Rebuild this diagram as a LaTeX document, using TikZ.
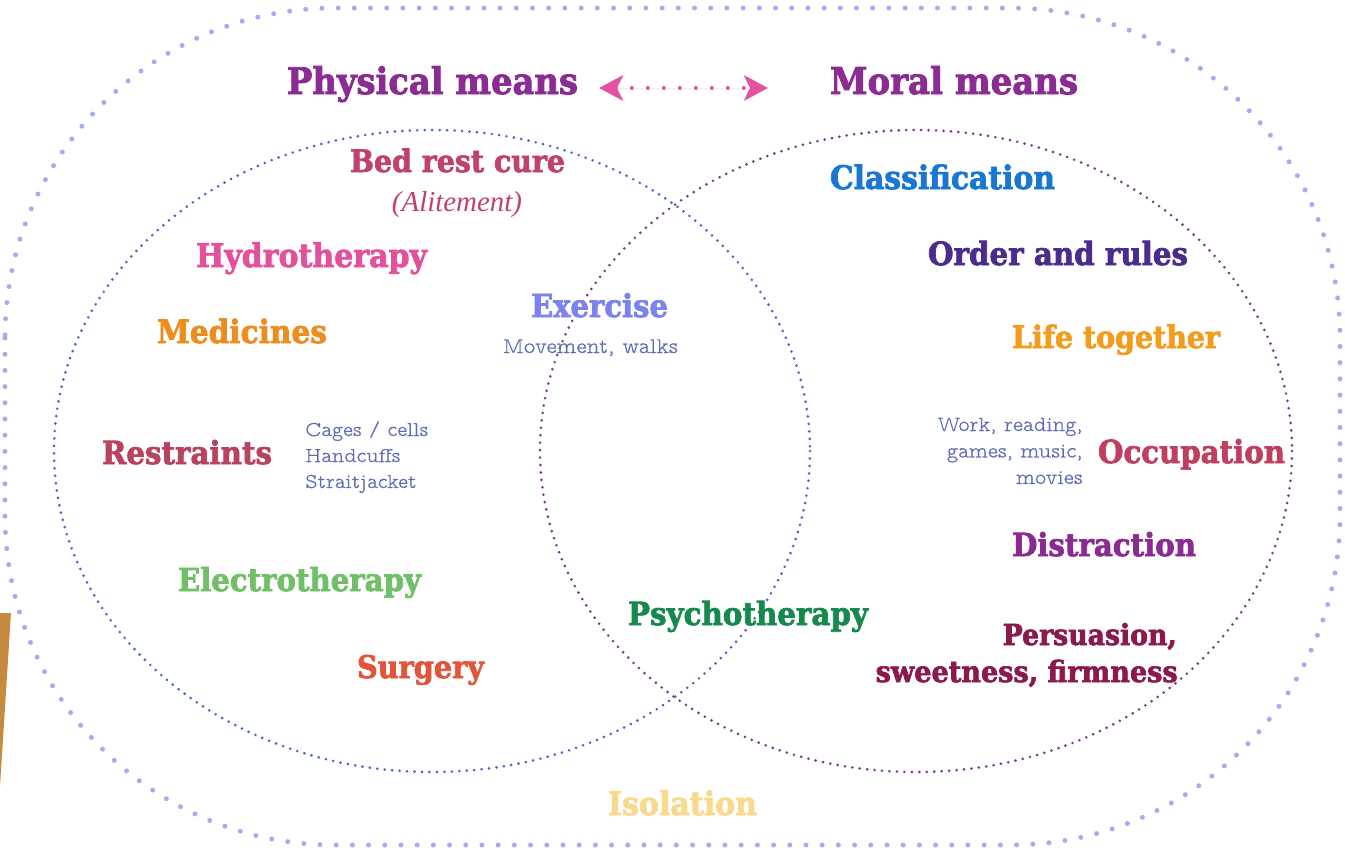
\documentclass[tikz,border=0pt]{standalone}
\usepackage{fontspec}
\usepackage{graphicx}
\usetikzlibrary{arrows.meta}
\newfontfamily\hb{DejaVu Serif}[BoldFeatures={FakeBold=2.2, FakeStretch=0.92}]
\newfontfamily\itf{Liberation Serif}
\newfontfamily\typ{lmmonoproplt10-regular.otf}[FakeBold=0.6]
\newlength\pxu \setlength\pxu{0.75pt}
\newcommand\fitw[2]{\resizebox{#1\pxu}{!}{#2}}
\definecolor{cTitle}{HTML}{8B2C95}
\definecolor{cArrow}{HTML}{E5509F}
\definecolor{cBed}{HTML}{C0426A}
\definecolor{cHydro}{HTML}{E2519C}
\definecolor{cMed}{HTML}{EC8D1E}
\definecolor{cExer}{HTML}{7C83EE}
\definecolor{cSmall}{HTML}{5E6BB5}
\definecolor{cRestr}{HTML}{B8435E}
\definecolor{cElec}{HTML}{71C069}
\definecolor{cSurg}{HTML}{E2553A}
\definecolor{cPsy}{HTML}{17884E}
\definecolor{cClass}{HTML}{1977D2}
\definecolor{cOrder}{HTML}{4B2B8C}
\definecolor{cLife}{HTML}{F59B1A}
\definecolor{cOcc}{HTML}{BF3F5F}
\definecolor{cDist}{HTML}{8A2B92}
\definecolor{cPers}{HTML}{8A1A4C}
\definecolor{cIso}{HTML}{F9D98B}
\definecolor{cOuter}{HTML}{A4ADF4}
\definecolor{cLeft}{HTML}{4A64C8}
\definecolor{cRight}{HTML}{7A3A86}
\definecolor{cBrown}{HTML}{C58B3F}
\begin{document}
\begin{tikzpicture}[x=0.75pt,y=-0.75pt,
  big/.style={inner sep=0pt, anchor=base, font=\hb\bfseries},
  small/.style={inner sep=0pt, font=\typ\fontsize{14}{17.25}\selectfont, text=cSmall},
  outerdots/.style={draw=cOuter, line width=3.75pt, line cap=round, dash pattern=on 0pt off 12.15pt},
  leftdots/.style={draw=cLeft, line width=2.2pt, line cap=round, dash pattern=on 0pt off 5.6pt},
  rightdots/.style={draw=cRight, line width=2.2pt, line cap=round, dash pattern=on 0pt off 5.6pt},
  pinkdots/.style={draw=cArrow, fill=cArrow, line width=3pt, line cap=round, dash pattern=on 0pt off 12pt}]
\useasboundingbox (0,0) rectangle (1345,851);
\fill[white] (0,0) rectangle (1345,851);
% brown fragment at the left edge
\fill[cBrown] (0,613) -- (11,613) -- (0,786) -- cycle;
% outer dotted frame
\draw[outerdots, rounded corners=247.5pt] (5,8) rectangle (1340,845);
% the two sets
\draw[leftdots] (432,451) ellipse [x radius=378, y radius=321];
\draw[rightdots] (916,451) ellipse [x radius=376, y radius=321];
% titles and arrow
\node[big, text=cTitle] (phys) at (432.5,94) {\fitw{291}{Physical means}};
\node[big, text=cTitle] (moral) at (954,94) {\fitw{248}{Moral means}};
\coordinate (aL) at (599,88);
\coordinate (aR) at (768,88);
\draw[pinkdots, {Stealth[length=18pt,width=19pt,inset=4.5pt]}-{Stealth[length=18pt,width=19pt,inset=4.5pt]}] (aL) -- (aR);
% physical means
\node[big, text=cBed] (bed) at (457.5,172) {\fitw{215}{Bed rest cure}};
\node[inner sep=0pt, anchor=base, text=cBed] (alit) at (457,211) {\fitw{130}{\itf\itshape (Alitement)}};
\node[big, text=cHydro] (hydro) at (311.5,267) {\fitw{231}{Hydrotherapy}};
\node[big, text=cMed] (med) at (242,343) {\fitw{170}{Medicines}};
\node[big, text=cRestr] (restr) at (187,464) {\fitw{170}{Restraints}};
\node[small, anchor=base west] (cages) at (305,436) {\fitw{123}{\begin{tabular}[t]{@{}l@{}}Cages / cells\\Handcuffs\\Straitjacket\end{tabular}}};
\node[big, text=cElec] (elec) at (299.5,591) {\fitw{243}{Electrotherapy}};
\node[big, text=cSurg] (surg) at (420.5,678) {\fitw{127}{Surgery}};
% shared
\node[big, text=cExer] (exer) at (599.5,317) {\fitw{137}{Exercise}};
\node[small, anchor=base] (move) at (590.5,353) {\fitw{175}{Movement, walks}};
\node[big, text=cPsy] (psy) at (748,625) {\fitw{240}{Psychotherapy}};
% moral means
\node[big, text=cClass] (class) at (942.5,189) {\fitw{225}{Classification}};
\node[big, text=cOrder] (order) at (1058,265) {\fitw{260}{Order and rules}};
\node[big, text=cLife] (life) at (1116,348) {\fitw{208}{Life together}};
\node[small, anchor=base east] (work) at (1083,431) {\fitw{145}{\begin{tabular}[t]{@{}r@{}}Work, reading,\\games, music,\\movies\end{tabular}}};
\node[big, text=cOcc] (occ) at (1191.5,463) {\fitw{187}{Occupation}};
\node[big, text=cDist] (dist) at (1104,556) {\fitw{184}{Distraction}};
\node[big, text=cPers, anchor=base east] (persA) at (1177,645) {\fitw{174}{Persuasion,}};
\node[big, text=cPers, anchor=base east] (persB) at (1178,682) {\fitw{302}{sweetness, firmness}};
% outside both
\node[big, text=cIso] (iso) at (682.5,815) {\fitw{149}{Isolation}};
\end{tikzpicture}
\end{document}
